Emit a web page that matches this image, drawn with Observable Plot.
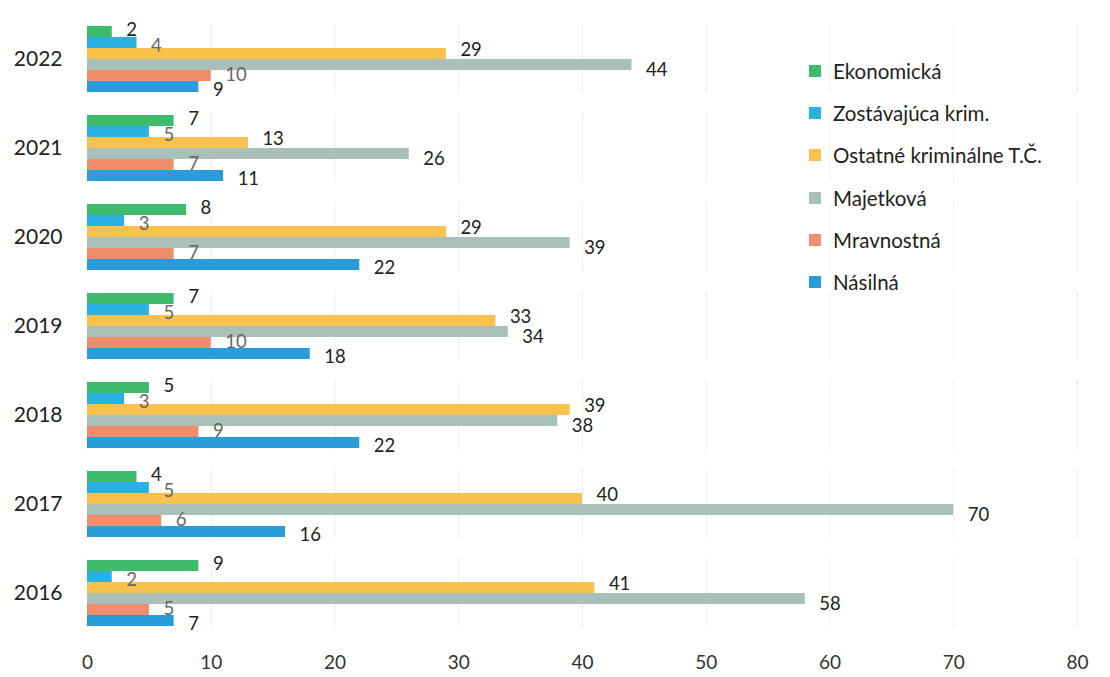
<!DOCTYPE html>
<html>
<head>
<meta charset="utf-8">
<script src="https://cdn.jsdelivr.net/npm/d3@7"></script>
<script src="https://cdn.jsdelivr.net/npm/@observablehq/plot@0.6"></script>
<style>
  body { margin: 0; background: #fff; font-family: Lato, "Open Sans", sans-serif; }
  #wrap { position: relative; width: 1110px; height: 677px; }
  #legend { position: absolute; left: 809px; top: 50px; font-size: 20.5px; color: #222; }
  #legend .item { display: flex; align-items: center; height: 42.2px; }
  #legend .sw { width: 12px; height: 12px; margin-right: 12px; }
</style>
</head>
<body>
<div id="wrap"><div id="legend"></div></div>
<script>
const years = ["2022", "2021", "2020", "2019", "2018", "2017", "2016"];
const categories = ["Ekonomická", "Zostávajúca krim.", "Ostatné kriminálne T.Č.", "Majetková", "Mravnostná", "Násilná"];
const colors = ["#3dba6b", "#2bb0e2", "#f8c24c", "#a8c0b9", "#f08e6b", "#2b9cdb"];
const labelColors = ["#222", "#666", "#222", "#222", "#666", "#222"];
const ekonomicka  = [2, 7, 8, 7, 5, 4, 9];
const zostavajuca = [4, 5, 3, 5, 3, 5, 2];
const ostatne     = [29, 13, 29, 33, 39, 40, 41];
const majetkova   = [44, 26, 39, 34, 38, 70, 58];
const mravnostna  = [10, 7, 7, 10, 9, 6, 5];
const nasilna     = [9, 11, 22, 18, 22, 16, 7];
const xTicks = [0, 10, 20, 30, 40, 50, 60, 70, 80];

const series = [ekonomicka, zostavajuca, ostatne, majetkova, mravnostna, nasilna];
const labelDy = [-2, 3, -4, 5, -1, 3];
const data = [];
years.forEach((y, i) => categories.forEach((c, j) => data.push({year: y, cat: c, value: series[j][i], lc: labelColors[j], j})));

const labelMarks = labelDy.map((dy, j) =>
  Plot.text(data.filter(d => d.j === j), {fy: "year", y: "cat", x: "value", text: d => String(d.value), fill: "lc", textAnchor: "start", dx: 14, dy, fontSize: 18.5})
);

const chart = Plot.plot({
  width: 1110,
  height: 677,
  marginLeft: 87,
  marginRight: 33,
  marginTop: 22,
  marginBottom: 48,
  style: {fontFamily: "Lato, 'Open Sans', sans-serif", fontSize: "19px", color: "#222", background: "#fff"},
  x: {domain: [0, 80], ticks: xTicks, label: null},
  y: {domain: categories, padding: 0.04, axis: null},
  fy: {domain: years, padding: 0.22, label: null},
  color: {domain: categories, range: colors},
  marks: [
    Plot.ruleX(xTicks, {stroke: "#ededed", strokeWidth: 1}),
    Plot.barX(data, {fy: "year", y: "cat", x: "value", fill: "cat"}),
    ...labelMarks,
    Plot.axisX({ticks: xTicks, tickSize: 0, tickPadding: 28, fontSize: 19, fill: "#333", label: null, facetAnchor: "bottom"}),
    Plot.axisFy({tickSize: 0, tickPadding: 25, fontSize: 21, fill: "#222", label: null, anchor: "left"})
  ]
});
document.getElementById("wrap").prepend(chart);

const legend = document.getElementById("legend");
categories.forEach((c, i) => {
  const it = document.createElement("div");
  it.className = "item";
  it.innerHTML = `<span class="sw" style="background:${colors[i]}"></span><span>${c}</span>`;
  legend.appendChild(it);
});
</script>
</body>
</html>
